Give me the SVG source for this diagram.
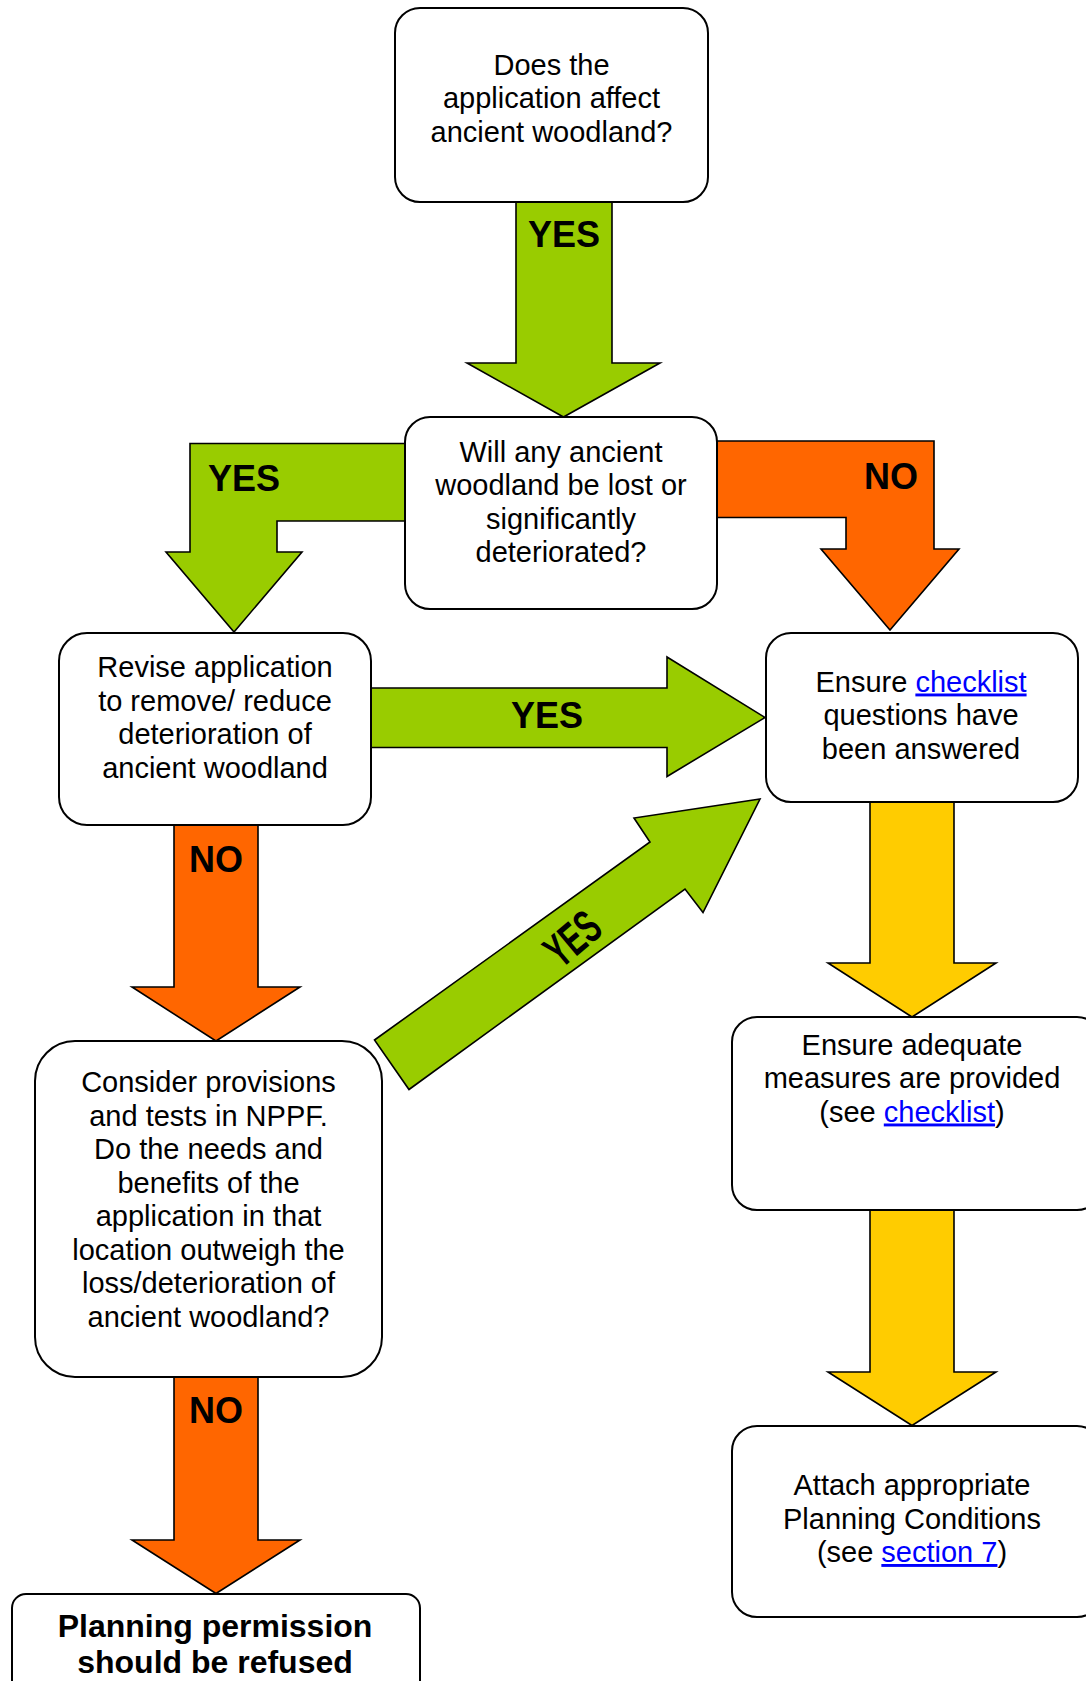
<svg xmlns="http://www.w3.org/2000/svg" width="1086" height="1681" viewBox="0 0 1086 1681">
<style>
.bg{fill:#ffffff}
.box{fill:#ffffff;stroke:#000000;stroke-width:2}
.arr{stroke:#000000;stroke-width:1.6;stroke-linejoin:miter}
.g{fill:#99CC00}
.o{fill:#FF6600}
.y{fill:#FFCC00}
.t{font-family:"Liberation Sans",Arial,sans-serif;font-size:29px;fill:#000000;text-anchor:middle}
.tb{font-family:"Liberation Sans",Arial,sans-serif;font-size:32px;font-weight:bold;fill:#000000;text-anchor:middle}
.lbl{font-family:"Liberation Sans",Arial,sans-serif;font-size:36px;font-weight:bold;fill:#000000;text-anchor:middle}
.lnk{fill:#0000FF;text-decoration:underline}
</style>
<rect class="bg" x="0" y="0" width="1086" height="1681"/>
<g id="connectors">
  <polygon class="arr g" points="516,202 612,202 612,363 660,363 563.5,417 467,363 516,363"/>
  <polygon class="arr g" points="405,443.5 190,443.5 190,552 166,552 234,632 302,552 277,552 277,521 405,521"/>
  <polygon class="arr o" points="717,441 934,441 934,549 959,549 890,630 821,549 846,549 846,517.5 717,517.5"/>
  <polygon class="arr g" points="371,688 667,688 667,657 765,717.5 667,776.5 667,747.5 371,747.5"/>
  <polygon class="arr o" points="174,825 258,825 258,987 300,987 216,1041 132,987 174,987"/>
  <polygon class="arr o" points="174,1377 258,1377 258,1540 300,1540 216,1593.5 132,1540 174,1540"/>
  <polygon class="arr y" points="870,802 954,802 954,963 996,963 912,1017 828,963 870,963"/>
  <polygon class="arr y" points="870,1210 954,1210 954,1372 996,1372 912,1425.5 828,1372 870,1372"/>
  <polygon class="arr g" points="374.5,1040 650,842 634,818 760,799 703,912.5 685,889 409,1089.5"/>
  <text class="lbl" x="564" y="247">YES</text>
  <text class="lbl" x="244" y="491">YES</text>
  <text class="lbl" x="891" y="489">NO</text>
  <text class="lbl" x="547" y="728">YES</text>
  <text class="lbl" x="216" y="872">NO</text>
  <text class="lbl" x="216" y="1423">NO</text>
  <text class="lbl" transform="translate(572,938) rotate(-40) scale(0.8,1.3)" x="0" y="13">YES</text>
</g>
<g id="node-affect">
  <rect class="box" x="395" y="8" width="313" height="194" rx="25" ry="25"/>
  <text class="t" x="551.5" y="74.5">Does the</text>
  <text class="t" x="551.5" y="108">application affect</text>
  <text class="t" x="551.5" y="141.5">ancient woodland?</text>
</g>
<g id="node-lost">
  <rect class="box" x="405" y="417" width="312" height="192" rx="25" ry="25"/>
  <text class="t" x="561" y="461.5">Will any ancient</text>
  <text class="t" x="561" y="495">woodland be lost or</text>
  <text class="t" x="561" y="528.5">significantly</text>
  <text class="t" x="561" y="562">deteriorated?</text>
</g>
<g id="node-revise">
  <rect class="box" x="59" y="633" width="312" height="192" rx="28" ry="28"/>
  <text class="t" x="215" y="677">Revise application</text>
  <text class="t" x="215" y="710.5">to remove/ reduce</text>
  <text class="t" x="215" y="744">deterioration of</text>
  <text class="t" x="215" y="777.5">ancient woodland</text>
</g>
<g id="node-checklist">
  <rect class="box" x="766" y="633" width="312" height="169" rx="25" ry="25"/>
  <text class="t" x="921" y="691.5">Ensure <tspan class="lnk">checklist</tspan></text>
  <text class="t" x="921" y="725">questions have</text>
  <text class="t" x="921" y="758.5">been answered</text>
</g>
<g id="node-consider">
  <rect class="box" x="35" y="1041" width="347" height="336" rx="40" ry="40"/>
  <text class="t" x="208.5" y="1092">Consider provisions</text>
  <text class="t" x="208.5" y="1125.5">and tests in NPPF.</text>
  <text class="t" x="208.5" y="1159">Do the needs and</text>
  <text class="t" x="208.5" y="1192.5">benefits of the</text>
  <text class="t" x="208.5" y="1226">application in that</text>
  <text class="t" x="208.5" y="1259.5">location outweigh the</text>
  <text class="t" x="208.5" y="1293">loss/deterioration of</text>
  <text class="t" x="208.5" y="1326.5">ancient woodland?</text>
</g>
<g id="node-refused">
  <rect class="box" x="12" y="1594" width="408" height="120" rx="14" ry="14"/>
  <text class="tb" x="215" y="1637">Planning permission</text>
  <text class="tb" x="215" y="1673">should be refused</text>
</g>
<g id="node-measures">
  <rect class="box" x="732" y="1017" width="370" height="193" rx="25" ry="25"/>
  <text class="t" x="912" y="1054.5">Ensure adequate</text>
  <text class="t" x="912" y="1088">measures are provided</text>
  <text class="t" x="912" y="1121.5">(see <tspan class="lnk">checklist</tspan>)</text>
</g>
<g id="node-conditions">
  <rect class="box" x="732" y="1426" width="370" height="191" rx="25" ry="25"/>
  <text class="t" x="912" y="1495">Attach appropriate</text>
  <text class="t" x="912" y="1528.5">Planning Conditions</text>
  <text class="t" x="912" y="1562">(see <tspan class="lnk">section 7</tspan>)</text>
</g>
</svg>
